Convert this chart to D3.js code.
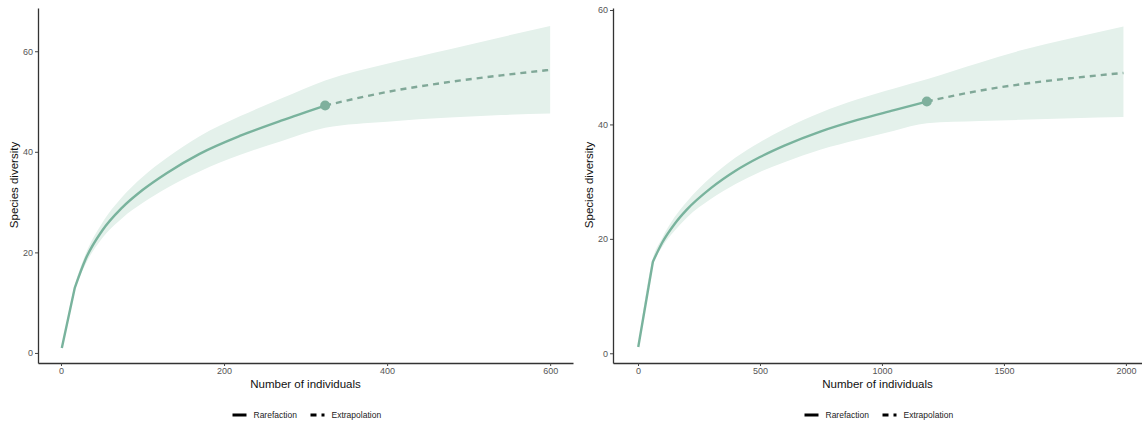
<!DOCTYPE html>
<html>
<head>
<meta charset="utf-8">
<script src="https://cdn.jsdelivr.net/npm/d3@7"></script>
<style>
  body { margin: 0; background: #fff; }
  svg text { font-family: "Liberation Sans", Arial, sans-serif; }
</style>
</head>
<body>
<div id="chart"></div>
<script>
// left panel: sample size m, estimated diversity, band
const leftRare = [
    { m: 1, d: 1, lo: 1, hi: 1 },
    { m: 17, d: 13, lo: 12.5, hi: 13.5 },
    { m: 30, d: 18.6, lo: 17.6, hi: 19.6 },
    { m: 50, d: 24.2, lo: 22.7, hi: 25.7 },
    { m: 75, d: 28.9, lo: 26.8, hi: 31.0 },
    { m: 100, d: 32.4, lo: 29.8, hi: 35.0 },
    { m: 130, d: 35.8, lo: 32.8, hi: 38.8 },
    { m: 170, d: 39.6, lo: 36.1, hi: 43.1 },
    { m: 220, d: 43.2, lo: 39.4, hi: 47.1 },
    { m: 270, d: 46.2, lo: 42.1, hi: 50.6 },
    { m: 324, d: 49.2, lo: 44.8, hi: 54.2 }
];
const leftExtra = [
    { m: 324, d: 49.2, lo: 44.8, hi: 54.2 },
    { m: 400, d: 51.9, lo: 46.0, hi: 57.5 },
    { m: 477, d: 53.9, lo: 46.8, hi: 60.4 },
    { m: 540, d: 55.2, lo: 47.3, hi: 62.8 },
    { m: 600, d: 56.3, lo: 47.6, hi: 65.0 }
];
const rightRare = [
    { m: 1, d: 1.1, lo: 1.1, hi: 1.1 },
    { m: 61, d: 16.0, lo: 15.4, hi: 16.6 },
    { m: 100, d: 19.4, lo: 18.6, hi: 20.2 },
    { m: 150, d: 22.6, lo: 21.4, hi: 23.8 },
    { m: 200, d: 25.1, lo: 23.7, hi: 26.5 },
    { m: 300, d: 28.9, lo: 27.0, hi: 30.8 },
    { m: 400, d: 31.9, lo: 29.6, hi: 34.2 },
    { m: 500, d: 34.3, lo: 31.7, hi: 36.9 },
    { m: 600, d: 36.3, lo: 33.4, hi: 39.2 },
    { m: 750, d: 38.8, lo: 35.6, hi: 42.1 },
    { m: 900, d: 40.8, lo: 37.3, hi: 44.4 },
    { m: 1050, d: 42.5, lo: 38.9, hi: 46.3 },
    { m: 1184, d: 44.0, lo: 40.2, hi: 47.9 }
];
const rightExtra = [
    { m: 1184, d: 44.0, lo: 40.2, hi: 47.9 },
    { m: 1400, d: 45.9, lo: 40.6, hi: 50.8 },
    { m: 1566, d: 47.0, lo: 40.8, hi: 52.9 },
    { m: 1780, d: 48.1, lo: 41.1, hi: 55.1 },
    { m: 1990, d: 49.0, lo: 41.3, hi: 57.1 }
];
const leftXTicks = [0, 200, 400, 600];
const rightXTicks = [0, 500, 1000, 1500, 2000];
const leftYTicks = [0, 20, 40, 60];
const rightYTicks = [0, 20, 40, 60];

const lineColor = '#79b39d';
const bandColor = '#e4f1eb';

const svg = d3.select('#chart').append('svg')
    .attr('width', 1142)
    .attr('height', 425);

function drawPanel(opt) {
    const x = d3.scaleLinear().domain(opt.xDomain).range([opt.left, opt.right]);
    const y = d3.scaleLinear().domain(opt.yDomain).range([363, 8]);
    const g = svg.append('g');

    const all = opt.rare.concat(opt.extra.slice(1));
    const area = d3.area()
        .x(d => x(d.m))
        .y0(d => y(d.lo))
        .y1(d => y(d.hi))
        .curve(d3.curveMonotoneX);
    g.append('path')
        .attr('d', area(all))
        .style('fill', bandColor)
        .style('stroke', 'none');

    const line = d3.line()
        .x(d => x(d.m))
        .y(d => y(d.d))
        .curve(d3.curveMonotoneX);
    const straight = d3.line()
        .x(d => x(d.m))
        .y(d => y(d.d));

    // first rarefaction step is a straight segment, the rest smooth
    g.append('path')
        .attr('d', straight(opt.rare.slice(0, 2)) + line(opt.rare.slice(1)).replace(/^M[^C]*/, ''))
        .style('fill', 'none')
        .style('stroke', lineColor)
        .style('stroke-width', 2.4)
        .style('stroke-linejoin', 'round');

    g.append('path')
        .attr('d', line(opt.extra))
        .style('fill', 'none')
        .style('stroke', '#80a898')
        .style('stroke-width', 2.4)
        .style('stroke-dasharray', '6,5');

    const obs = opt.rare[opt.rare.length - 1];
    g.append('circle')
        .attr('cx', x(obs.m))
        .attr('cy', y(obs.d))
        .attr('r', 5)
        .style('fill', '#7fb09d');

    // axes
    const xAxis = g.append('g')
        .attr('transform', 'translate(0,363)')
        .call(d3.axisBottom(x).tickValues(opt.xTicks).tickFormat(d3.format('d'))
            .tickSize(3).tickPadding(2).tickSizeOuter(0));
    const yAxis = g.append('g')
        .attr('transform', `translate(${opt.left},0)`)
        .call(d3.axisLeft(y).tickValues(opt.yTicks).tickFormat(d3.format('d'))
            .tickSize(3).tickPadding(2).tickSizeOuter(0));
    [xAxis, yAxis].forEach(a => {
        a.select('.domain').style('stroke', '#333').style('stroke-width', 1.3);
        a.selectAll('.tick line').style('stroke', '#444');
        a.selectAll('.tick text').style('fill', '#555').style('font-size', '9px');
    });

    const mid = (opt.left + opt.right) / 2;
    g.append('text')
        .attr('x', mid)
        .attr('y', 388)
        .attr('text-anchor', 'middle')
        .style('font-size', '11.5px')
        .style('fill', '#111')
        .text('Number of individuals');

    g.append('text')
        .attr('transform', `translate(${opt.left - 20},185) rotate(-90)`)
        .attr('text-anchor', 'middle')
        .style('font-size', '11.5px')
        .style('fill', '#111')
        .text('Species diversity');

    // legend
    const lg = g.append('g').attr('transform', `translate(${mid - 73},415)`);
    lg.append('line')
        .attr('x1', 0).attr('x2', 14).attr('y1', 0).attr('y2', 0)
        .style('stroke', '#000').style('stroke-width', 3);
    lg.append('text')
        .attr('x', 21).attr('y', 3)
        .style('font-size', '8.5px').style('fill', '#222')
        .text('Rarefaction');
    lg.append('line')
        .attr('x1', 78).attr('x2', 92).attr('y1', 0).attr('y2', 0)
        .style('stroke', '#000').style('stroke-width', 3)
        .style('stroke-dasharray', '6,5');
    lg.append('text')
        .attr('x', 99).attr('y', 3)
        .style('font-size', '8.5px').style('fill', '#222')
        .text('Extrapolation');
}

drawPanel({
    left: 38, right: 573,
    xDomain: [-28.2, 628], yDomain: [-2, 68.6],
    rare: leftRare, extra: leftExtra,
    xTicks: leftXTicks, yTicks: leftYTicks
});

drawPanel({
    left: 613, right: 1142,
    xDomain: [-102.5, 2066], yDomain: [-1.7, 60.35],
    rare: rightRare, extra: rightExtra,
    xTicks: rightXTicks, yTicks: rightYTicks
});
</script>
</body>
</html>
